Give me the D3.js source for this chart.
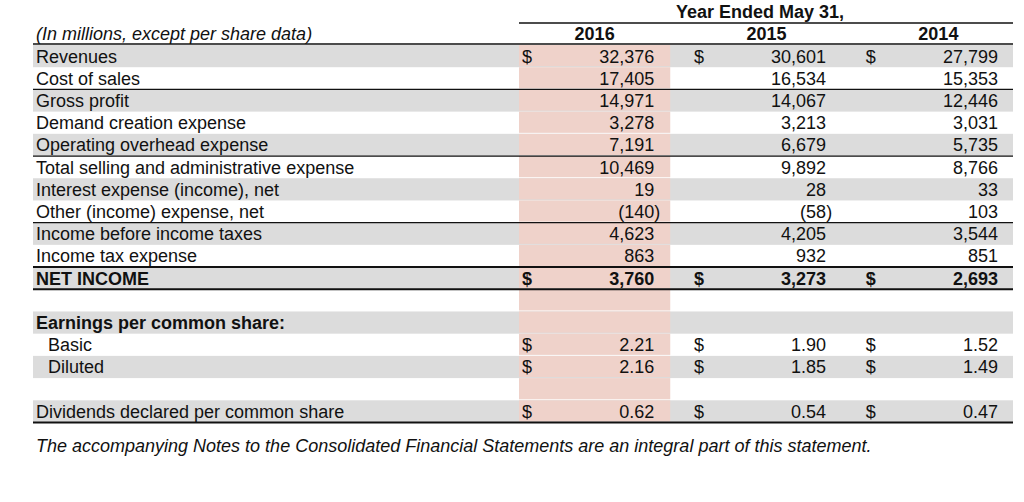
<!DOCTYPE html>
<html>
<head>
<meta charset="utf-8">
<script src="https://cdn.jsdelivr.net/npm/d3@7"></script>
<style>
  html, body { margin: 0; padding: 0; background: #fff; }
  svg { display: block; font-family: "Liberation Sans", Arial, sans-serif; }
</style>
</head>
<body>
<svg id="chart" width="1024" height="502"></svg>
<script>
// ---- data ----
const years = ["2016", "2015", "2014"];
const labels = [
  "Revenues", "Cost of sales", "Gross profit", "Demand creation expense",
  "Operating overhead expense", "Total selling and administrative expense",
  "Interest expense (income), net", "Other (income) expense, net",
  "Income before income taxes", "Income tax expense", "NET INCOME", "",
  "Earnings per common share:", "Basic", "Diluted", "",
  "Dividends declared per common share"
];
const values2016 = [32376, 17405, 14971, 3278, 7191, 10469, 19, -140, 4623, 863, 3760, null, null, 2.21, 2.16, null, 0.62];
const values2015 = [30601, 16534, 14067, 3213, 6679, 9892, 28, -58, 4205, 932, 3273, null, null, 1.90, 1.85, null, 0.54];
const values2014 = [27799, 15353, 12446, 3031, 5735, 8766, 33, 103, 3544, 851, 2693, null, null, 1.52, 1.49, null, 0.47];
const dollarRows = [0, 10, 13, 14, 16];
const perShareRows = [13, 14, 16];
const boldRows = [10, 12];
const indentRows = [13, 14];
const thinRuleRows = [1, 4, 7];
const thickRuleRows = [9, 10, 16];
const headerCaption = "(In millions, except per share data)";
const headerGroup = "Year Ended May 31,";
const footnote = "The accompanying Notes to the Consolidated Financial Statements are an integral part of this statement.";

const seriesByYear = { "2016": values2016, "2015": values2015, "2014": values2014 };

// ---- layout ----
const FS = 18;
const svg = d3.select("#chart");
const left = 33, right = 1013;
const y = d3.scaleBand().domain(d3.range(labels.length)).range([45, 422.5]).padding(0);
const x = d3.scaleBand().domain(years).range([519, 1014]).paddingInner(0.12).paddingOuter(0);
const h = y.bandwidth();

const fmtInt = d3.format(",");
const fmtDec = d3.format(".2f");

svg.append("rect").attr("width", 1024).attr("height", 502).attr("fill", "#fff");

// row stripes
svg.append("g").selectAll("rect")
  .data(d3.range(labels.length).filter(i => i % 2 === 0))
  .join("rect")
  .attr("x", left).attr("width", right - left)
  .attr("y", i => y(i)).attr("height", h)
  .attr("fill", "#dcdcdc");

// highlighted 2016 column
svg.append("g").selectAll("rect")
  .data(d3.range(labels.length))
  .join("rect")
  .attr("x", x("2016")).attr("width", x.bandwidth())
  .attr("y", i => y(i)).attr("height", h - 1)
  .attr("fill", "#efd2ca");

// rules
const rules = svg.append("g").attr("stroke", "#111");
rules.append("line").attr("x1", x("2016")).attr("x2", right).attr("y1", 23).attr("y2", 23).attr("stroke-width", 1.5);
rules.append("line").attr("x1", left).attr("x2", right).attr("y1", 44).attr("y2", 44).attr("stroke-width", 1.5);
rules.selectAll("line.thin").data(thinRuleRows).join("line").attr("class", "thin")
  .attr("x1", left).attr("x2", right)
  .attr("y1", i => y(i) + h).attr("y2", i => y(i) + h).attr("stroke-width", 1.2);
rules.selectAll("line.thick").data(thickRuleRows).join("line").attr("class", "thick")
  .attr("x1", left).attr("x2", right)
  .attr("y1", i => y(i) + h).attr("y2", i => y(i) + h).attr("stroke-width", 2);

// header texts
svg.append("text").attr("x", 36).attr("y", 40).attr("font-size", FS).attr("font-style", "italic")
  .attr("fill", "#111").text(headerCaption);
svg.append("text").attr("x", 760).attr("y", 17.5).attr("font-size", FS).attr("font-weight", "bold")
  .attr("text-anchor", "middle").attr("fill", "#111").text(headerGroup);
svg.append("g").selectAll("text").data(years).join("text")
  .attr("x", d => x(d) + x.bandwidth() / 2).attr("y", 40)
  .attr("font-size", FS).attr("font-weight", "bold").attr("text-anchor", "middle")
  .attr("fill", "#111").text(d => d);

// labels
svg.append("g").selectAll("text").data(labels.map((l, i) => ({ l, i })).filter(d => d.l))
  .join("text")
  .attr("x", d => indentRows.includes(d.i) ? 48 : 36)
  .attr("y", d => y(d.i) + 17.5)
  .attr("font-size", FS)
  .attr("font-weight", d => boldRows.includes(d.i) ? "bold" : "normal")
  .attr("fill", "#111")
  .text(d => d.l);

// values
years.forEach(yr => {
  const g = svg.append("g");
  const colX = x(yr);
  const numRight = colX + x.bandwidth() - 16;
  const cells = seriesByYear[yr].map((v, i) => ({ v, i })).filter(d => d.v !== null);
  g.selectAll("text.num").data(cells).join("text").attr("class", "num")
    .attr("x", d => d.v < 0 ? numRight + 6 : numRight)
    .attr("y", d => y(d.i) + 17.5)
    .attr("font-size", FS).attr("text-anchor", "end")
    .attr("font-weight", d => boldRows.includes(d.i) ? "bold" : "normal")
    .attr("fill", "#111")
    .text(d => {
      const s = perShareRows.includes(d.i) ? fmtDec(Math.abs(d.v)) : fmtInt(Math.abs(d.v));
      return d.v < 0 ? "(" + s + ")" : s;
    });
  g.selectAll("text.cur").data(dollarRows).join("text").attr("class", "cur")
    .attr("x", colX + 3)
    .attr("y", i => y(i) + 17.5)
    .attr("font-size", FS)
    .attr("font-weight", i => boldRows.includes(i) ? "bold" : "normal")
    .attr("fill", "#111").text("$");
});

// footnote
svg.append("text").attr("x", 36).attr("y", 452).attr("font-size", FS).attr("font-style", "italic")
  .attr("fill", "#111").text(footnote);
</script>
</body>
</html>
